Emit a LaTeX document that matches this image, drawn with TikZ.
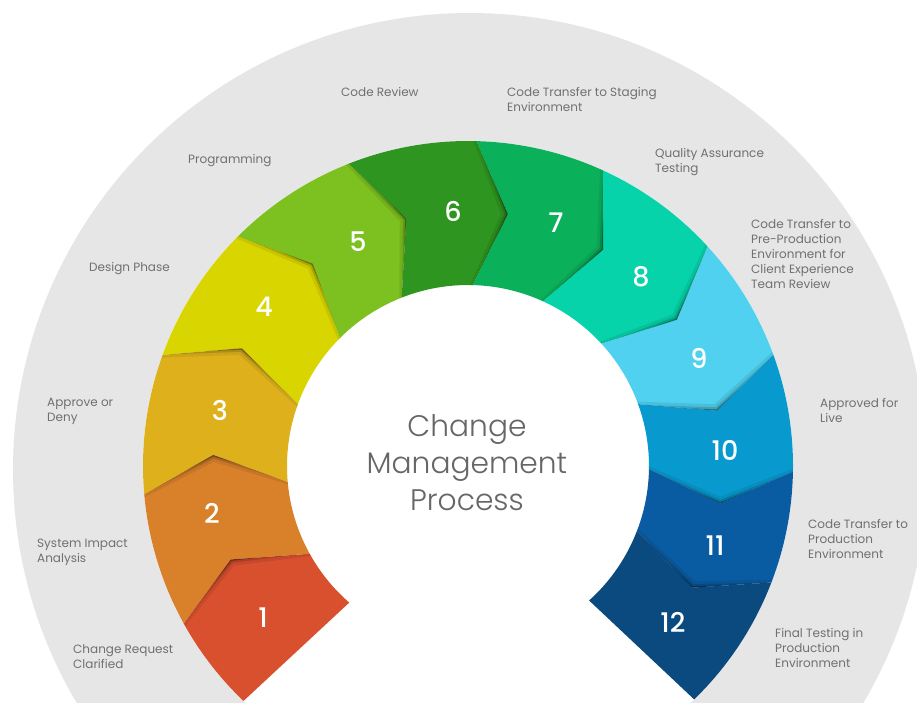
\documentclass[tikz,border=0pt]{standalone}
\usepackage{fontspec}
\setmainfont{Poppins}
\newfontfamily\numfont{Poppins Medium}
\newfontfamily\titlefont{Poppins Light}

\definecolor{ringgray}{HTML}{E6E6E6}
\definecolor{labelgray}{HTML}{707070}
\definecolor{titlegray}{HTML}{666666}
\definecolor{cA}{HTML}{D9502F}
\definecolor{cB}{HTML}{D9812A}
\definecolor{cC}{HTML}{DEB11C}
\definecolor{cD}{HTML}{D8D500}
\definecolor{cE}{HTML}{7CC11F}
\definecolor{cF}{HTML}{2E9520}
\definecolor{cG}{HTML}{0BB05B}
\definecolor{cH}{HTML}{06D3A9}
\definecolor{cI}{HTML}{4FD1EF}
\definecolor{cJ}{HTML}{0899CF}
\definecolor{cK}{HTML}{0A5CA2}
\definecolor{cL}{HTML}{0A4A7E}

% ring radii (outer, inner, chevron tip) and chevron tip offset in degrees
\def\Ro{325}
\def\Ri{181}
\def\Rv{255}
\def\dv{7.5}

% a ring segment with a notch at its start and a tip at its end
\newcommand\segmid[2]{(#1:\Ro) arc[start angle=#1, end angle=#2, radius=\Ro]
  -- ({#2-\dv}:\Rv) -- (#2:\Ri) arc[start angle=#2, end angle=#1, radius=\Ri]
  -- ({#1-\dv}:\Rv) -- cycle}
% first segment: straight start
\newcommand\segfirst{(226.3:\Ro) arc[start angle=226.3, end angle=209, radius=\Ro]
  -- ({209-\dv}:\Rv) -- (209:\Ri) arc[start angle=209, end angle=229, radius=\Ri] -- cycle}
% last segment: straight end
\newcommand\seglast{(-21:\Ro) arc[start angle=-21, end angle=-45.9, radius=\Ro]
  -- (-48:\Ri) arc[start angle=-48, end angle=-21, radius=\Ri]
  -- ({-21-\dv}:\Rv) -- cycle}
% chevron edge between two segments
\newcommand\chev[1]{(#1:335) -- ({#1-\dv}:\Rv) -- (#1:170)}

\begin{document}
\begin{tikzpicture}[x=1pt, y=1pt,
  steplabel/.style={anchor=north west, inner sep=0pt, align=left, text=labelgray,
    font=\fontsize{12}{15}\selectfont},
  stepnum/.style={inner sep=0pt, text=white, font=\numfont\fontsize{27}{27}\selectfont},
  edgeshadow/.style={black, opacity=.30, line width=3, line join=round,
    preaction={draw, black, opacity=.14, line width=7, line join=round},
    preaction={draw, black, opacity=.08, line width=13, line join=round}}]
\useasboundingbox (-468,-236) rectangle (449,466);
\fill[white] (-468,-236) rectangle (449,466);

% background disc and the ring area
\fill[ringgray] (2,-4) circle[radius=457];
\fill[white] (0,0) circle[radius=\Ro];

% ring segments
\fill[cA] \segfirst;
\foreach \s/\e/\col in {209/185/cB, 185/160/cC, 160/135/cD, 135/111.5/cE,
    111.5/88.5/cF, 88.5/65.5/cG, 65.5/42.5/cH, 42.5/20/cI, 20/-1/cJ, -1/-21/cK}
  {\fill[\col] \segmid{\s}{\e};}
\fill[cL] \seglast;

% shadows cast by each segment onto the one before it
\begin{scope}
  \clip \segfirst;
  \draw[edgeshadow] \chev{209};
\end{scope}
\foreach \s/\e in {209/185, 185/160, 160/135, 135/111.5, 111.5/88.5,
    88.5/65.5, 65.5/42.5, 42.5/20, 20/-1, -1/-21}
  {\begin{scope}
     \clip \segmid{\s}{\e};
     \draw[edgeshadow] \chev{\e};
   \end{scope}}

% step numbers
\node[stepnum] (n1)  at (-205,-152) {1};
\node[stepnum] (n2)  at (-256,-47)  {2};
\node[stepnum] (n3)  at (-248,56)   {3};
\node[stepnum] (n4)  at (-204,159)  {4};
\node[stepnum] (n5)  at (-110,224)  {5};
\node[stepnum] (n6)  at (-15,255)   {6};
\node[stepnum] (n7)  at (88,243)    {7};
\node[stepnum] (n8)  at (173,189)   {8};
\node[stepnum] (n9)  at (231,108)   {9};
\node[stepnum] (n10) at (257,16)    {10};
\node[stepnum] (n11) at (247,-80)   {11};
\node[stepnum] (n12) at (205,-156)  {12};

% step labels
\node[steplabel] (l1)  at (-395,-178.5) {Change Request\\Clarified};
\node[steplabel] (l2)  at (-431,-72.5)  {System Impact\\Analysis};
\node[steplabel] (l3)  at (-421,68.5)   {Approve or\\Deny};
\node[steplabel] (l4)  at (-379,203.5)  {Design Phase};
\node[steplabel] (l5)  at (-280,311.5)  {Programming};
\node[steplabel] (l6)  at (-127,378.5)  {Code Review};
\node[steplabel] (l7)  at (39,378.5)    {Code Transfer to Staging\\Environment};
\node[steplabel] (l8)  at (187,317.5)   {Quality Assurance\\Testing};
\node[steplabel] (l9)  at (283,246.5)   {Code Transfer to\\Pre-Production\\Environment for\\Client Experience\\Team Review};
\node[steplabel] (l10) at (352,67.5)    {Approved for\\Live};
\node[steplabel] (l11) at (340,-53.5)   {Code Transfer to\\Production\\Environment};
\node[steplabel] (l12) at (307,-162.5)  {Final Testing in\\Production\\Environment};

% title in the centre
\node[align=center, inner sep=0pt, text=titlegray,
  font=\titlefont\fontsize{29.7}{37}\selectfont] (title) at (-1,3)
  {Change\\Management\\Process};
\end{tikzpicture}
\end{document}
